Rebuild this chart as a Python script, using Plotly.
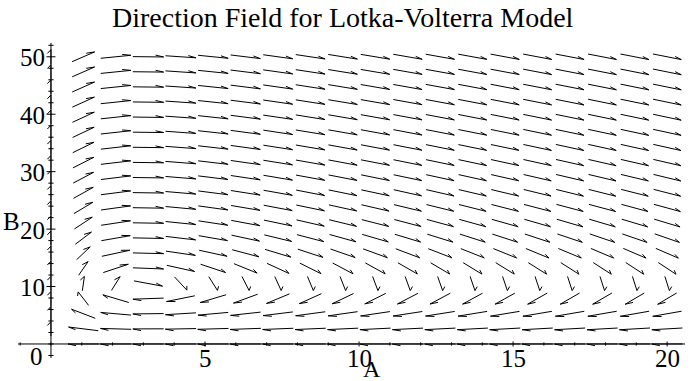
import numpy as np
import plotly.graph_objects as go

# Lotka-Volterra system: A = predator, B = prey
#   dA/dt = A * (-alpha + beta * B)
#   dB/dt = B * (gamma - delta * A)
alpha = 0.1
beta = 0.01
gamma = 0.03
delta = 0.01

# sampling grid for the direction field
A_grid = np.linspace(0, 20, 20)
B_grid = np.linspace(0, 50, 20)

# axis view
x_range = [-1.07, 20.58]
y_range = [-2.44, 52.4]

x_major = [5, 10, 15, 20]
x_minor = list(range(-1, 21))
y_major = [10, 20, 30, 40, 50]
y_minor = list(range(-2, 53, 2))

W, H = 693, 381
M = dict(l=18, r=8, t=43, b=23)
pw = W - M["l"] - M["r"]
ph = H - M["t"] - M["b"]
xspan = x_range[1] - x_range[0]
yspan = y_range[1] - y_range[0]
ppx = pw / xspan      # pixels per unit A
ppy = ph / yspan      # pixels per unit B

hx = A_grid[1] - A_grid[0]
hy = B_grid[1] - B_grid[0]
arrow_len = 0.95      # fraction of a grid cell
head_frac = 0.29
head_ang = np.radians(24)

ax_x, ax_y = [], []
for a in A_grid:
    for b in B_grid:
        dA = a * (-alpha + beta * b)
        dB = b * (gamma - delta * a)
        u, v = dA / hx, dB / hy
        n = np.hypot(u, v)
        if n == 0:
            continue
        vx = u / n * hx * arrow_len
        vy = v / n * hy * arrow_len
        x0, y0 = a - vx / 2, b - vy / 2
        x1, y1 = a + vx / 2, b + vy / 2
        # single barb, built in view-normalised coordinates
        bx, by = -vx / xspan, -vy / yspan
        rx = bx * np.cos(head_ang) + by * np.sin(head_ang)
        ry = -bx * np.sin(head_ang) + by * np.cos(head_ang)
        x2 = x1 + head_frac * rx * xspan
        y2 = y1 + head_frac * ry * yspan
        ax_x += [x0, x1, x2, None]
        ax_y += [y0, y1, y2, None]

fig = go.Figure()
fig.add_trace(go.Scatter(x=ax_x, y=ax_y, mode="lines",
                         line=dict(color="black", width=1),
                         hoverinfo="skip", showlegend=False))

# axes through the origin
tx, ty = [x_range[0], x_range[1], None, 0, 0, None], [0, 0, None, y_range[0], y_range[1], None]
for v in x_minor:
    t = (2.5 if v in x_major else 1.6) / ppy
    tx += [v, v, None]
    ty += [-t, t, None]
for v in y_minor:
    t = (4.5 if v in y_major else 2.6) / ppx
    tx += [-t, t, None]
    ty += [v, v, None]
fig.add_trace(go.Scatter(x=tx, y=ty, mode="lines",
                         line=dict(color="black", width=1),
                         hoverinfo="skip", showlegend=False))

font = dict(family="Liberation Serif", size=25, color="black")
ann = []
for v in y_major:
    ann.append(dict(x=0, y=v, xref="x", yref="y", text=str(v), showarrow=False,
                    xanchor="right", yanchor="middle", xshift=-4, yshift=-1, font=font))
for v in x_major:
    ann.append(dict(x=v, y=0, xref="x", yref="y", text=str(v), showarrow=False,
                    xanchor="center", yanchor="middle", yshift=-15, font=font))
ann.append(dict(x=0, y=0, xref="x", yref="y", text="0", showarrow=False,
                xanchor="center", yanchor="middle", xshift=-14, yshift=-13, font=font))
ann.append(dict(x=0, y=21.4, xref="x", yref="y", text="B", showarrow=False,
                xanchor="center", yanchor="middle", xshift=-39, font=font))
ann.append(dict(x=10.42, y=0, xref="x", yref="y", text="A", showarrow=False,
                xanchor="center", yanchor="middle", yshift=-25,
                font=dict(family="Liberation Serif", size=24, color="black")))
ann.append(dict(x=(343 - M["l"]) / pw, y=1 + (43 - 17) / ph, xref="paper", yref="paper",
                text="Direction Field for Lotka-Volterra Model", showarrow=False,
                xanchor="center", yanchor="middle",
                font=dict(family="Liberation Serif", size=28, color="black")))

fig.update_layout(
    width=W, height=H, margin=M,
    paper_bgcolor="white", plot_bgcolor="white",
    xaxis=dict(range=x_range, visible=False, fixedrange=True),
    yaxis=dict(range=y_range, visible=False, fixedrange=True),
    annotations=ann,
)
fig.write_html("out.html")
